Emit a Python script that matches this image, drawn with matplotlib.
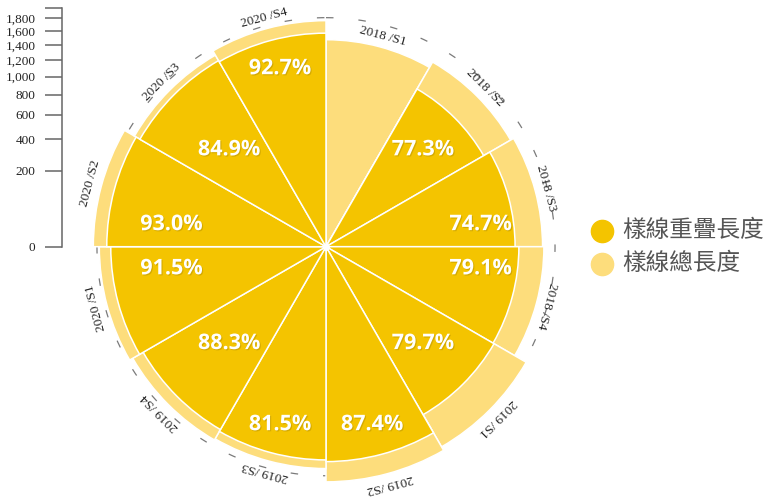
import numpy as np
import matplotlib
matplotlib.use("Agg")
import matplotlib.pyplot as plt
import matplotlib.patheffects as pe
from matplotlib.lines import Line2D

# periods around the rose, clockwise from 12 o'clock
periods = ['2018 /S1', '2018 /S2', '2018 /S3', '2018 /S4',
           '2019 /S1', '2019 /S2', '2019 /S3', '2019 /S4',
           '2020 /S1', '2020 /S2', '2020 /S3', '2020 /S4']
total_len = [1480, 1570, 1620, 1640, 1845, 1910, 1700, 1720, 1775, 1870, 1690, 1765]
overlap_len = [0, 1145, 1235, 1285, 1300, 1595, 1570, 1540, 1600, 1660, 1595, 1575]
pct_labels = ['', '77.3%', '74.7%', '79.1%', '79.7%', '87.4%', '81.5%', '88.3%',
              '91.5%', '93.0%', '84.9%', '92.7%']
r_ticks = [0, 200, 400, 600, 800, 1000, 1200, 1400, 1600, 1800]
legend_names = ['樣線重疊長度', '樣線總長度']

DARK = '#F4C400'
LIGHT = '#FDDD7C'
rmax = 1963
W, H = 766, 499
PX = 0.72  # points per pixel at dpi 100

fwd = lambda x: np.sqrt(np.clip(x, 0, None))
inv = lambda x: np.square(x)

fig = plt.figure(figsize=(W / 100, H / 100), dpi=100)

cx, cy, rad = 326, 252.3, 238.4   # centre / radius in pixels (from bottom)
ax = fig.add_axes([(cx - rad) / W, (cy - rad) / H, 2 * rad / W, 2 * rad / H], projection='polar')
ax.set_theta_zero_location('N')
ax.set_theta_direction(-1)
ax.set_rscale('function', functions=(fwd, inv))
ax.set_rlim(0, rmax)
ax.grid(False)
ax.set_xticks([])
ax.set_yticks([])
ax.spines['polar'].set_visible(False)
ax.patch.set_alpha(0)

n = len(periods)
width = 2 * np.pi / n
theta = np.arange(n) * width + width / 2

# dashed angle-axis ring
ring = np.linspace(0, 2 * np.pi, 400)
ax.plot(ring, np.full_like(ring, 1812), color='#7a7a7a', lw=0.9, ls=(0, (6, 20)), zorder=0)

ax.bar(theta, total_len, width=width, color=LIGHT, edgecolor='white', linewidth=1.1, zorder=2)
ax.bar(theta, overlap_len, width=width, color=DARK, edgecolor='white', linewidth=1.1, zorder=3)
ax.plot([0], [0], 'o', color='white', ms=4, zorder=4)


def pct_offset(tc):
    t = np.radians(tc)
    shift = -8.5 * np.sin(4 * t) * np.sin(t) ** 2
    tt = np.radians(tc + shift)
    w = (1 + np.cos(4 * t)) / 2 / 0.75
    rho = 137 + w * (17 + 32 * np.cos(t) ** 2)
    return rho * np.sin(tt), rho * np.cos(tt)


shadow = [pe.withSimplePatchShadow(offset=(0.8, -0.8), shadow_rgbFace='#9a7a00', alpha=0.35)]
for th, lab, tot, pct in zip(theta, periods, total_len, pct_labels):
    deg = np.degrees(th)
    dx, dy = pct_offset(deg)
    ax.annotate(pct, xy=(th, 0), xytext=(dx * PX, dy * PX),
                textcoords='offset points', ha='center', va='center', fontsize=15.5,
                fontfamily='Open Sans', fontweight='bold', fontstyle='normal', color='white',
                path_effects=shadow, zorder=6)
    ax.annotate(lab, xy=(th, tot), xytext=(11 * PX * np.sin(th), 11 * PX * np.cos(th)),
                textcoords='offset points', ha='center', va='center', rotation=-deg,
                rotation_mode='anchor', fontsize=9.5, fontfamily='Liberation Serif',
                color='#222222', zorder=6)

# radial value axis on the left
ax2 = fig.add_axes([61.7 / W, cy / H, 0.0005, rad / H])
ax2.set_yscale('function', functions=(fwd, inv))
ax2.set_ylim(0, rmax)
ax2.set_xticks([])
ax2.set_yticks(r_ticks + [rmax])
ax2.set_yticklabels([f'{v:,}' for v in r_ticks] + [''], fontfamily='Liberation Serif',
                    fontsize=9.5, color='#222222')
ax2.tick_params(axis='y', direction='out', length=12, width=1.1, color='#666666', pad=7)
for s in ['top', 'right', 'bottom']:
    ax2.spines[s].set_visible(False)
ax2.spines['left'].set_color('#666666')
ax2.spines['left'].set_linewidth(1.1)
ax2.patch.set_alpha(0)

# legend
for i, (name, col) in enumerate(zip(legend_names, [DARK, LIGHT])):
    y = 1 - (230.5 + 33 * i) / H
    fig.add_artist(Line2D([601.7 / W], [y], transform=fig.transFigure, marker='o', ms=16,
                          color=col, ls=''))
    fig.text(622 / W, y, name, va='center', ha='left', fontsize=17,
             fontfamily='Noto Sans CJK TC', color='#555555')

fig.savefig('out.png', dpi=100)
